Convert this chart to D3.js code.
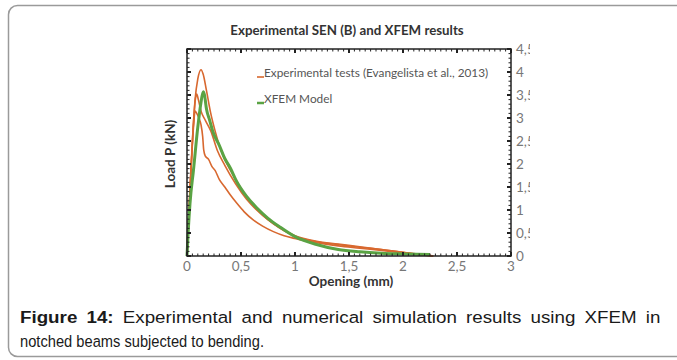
<!DOCTYPE html>
<html>
<head>
<meta charset="utf-8">
<script src="https://cdn.jsdelivr.net/npm/d3@7/dist/d3.min.js"></script>
<style>
  html, body { margin: 0; padding: 0; background: #fff; }
  svg { display: block; }
</style>
</head>
<body>
<svg id="fig" width="677" height="360"></svg>
<script>
// Load–opening curves, [opening (mm), load (kN)]
const testA = [[0,0],[0.01,0.5],[0.028,1.5],[0.05,2.5],[0.075,3.4],[0.1,3.85],[0.13,4.05],[0.15,3.95],[0.18,3.6],[0.22,3.1],[0.26,2.72],[0.33,2.2],[0.4,1.87],[0.5,1.47],[0.6,1.13],[0.7,0.89],[0.8,0.7],[0.9,0.55],[1.0,0.43],[1.2,0.31],[1.4,0.25],[1.6,0.19],[1.8,0.14],[2.0,0.08],[2.15,0.03],[2.28,0]];
const testB = [[0,0],[0.015,0.8],[0.04,2.0],[0.06,2.9],[0.08,3.45],[0.09,3.52],[0.105,3.4],[0.13,3.15],[0.17,2.95],[0.22,2.72],[0.28,2.3],[0.35,1.97],[0.45,1.57],[0.55,1.24],[0.65,0.99],[0.75,0.79],[0.85,0.63],[1.0,0.44],[1.2,0.32],[1.4,0.26],[1.6,0.2],[1.8,0.14],[2.0,0.08],[2.2,0.03],[2.28,0]];
const testC = [[0,0],[0.02,1.0],[0.04,2.0],[0.06,2.8],[0.075,3.15],[0.09,3.1],[0.11,3.0],[0.13,2.85],[0.145,2.6],[0.155,2.3],[0.17,2.17],[0.2,2.1],[0.23,1.95],[0.26,1.86],[0.3,1.66],[0.35,1.5],[0.4,1.33],[0.46,1.15],[0.53,0.96],[0.61,0.79],[0.7,0.65],[0.8,0.53],[0.9,0.44],[1.0,0.38],[1.2,0.29],[1.4,0.22],[1.6,0.17],[1.8,0.12],[2.0,0.07],[2.2,0.02],[2.28,0]];
const xfem = [[0,0],[0.012,0.57],[0.028,1.15],[0.06,1.87],[0.1,2.8],[0.127,3.3],[0.15,3.57],[0.162,3.5],[0.18,3.2],[0.21,2.95],[0.24,2.7],[0.3,2.4],[0.35,2.12],[0.4,1.92],[0.46,1.62],[0.55,1.3],[0.645,1.05],[0.75,0.82],[0.86,0.63],[1.0,0.42],[1.2,0.25],[1.4,0.14],[1.6,0.09],[1.8,0.06],[2.0,0.045],[2.25,0.03]];

const xTicks = [0, 0.5, 1, 1.5, 2, 2.5, 3];
const yTicks = [0, 0.5, 1, 1.5, 2, 2.5, 3, 3.5, 4, 4.5];
const fmt = v => String(v).replace(".", ",");

const titleText = "Experimental SEN (B) and XFEM results";
const xLabel = "Opening (mm)";
const yLabel = "Load P (kN)";
const legendItems = [
  { name: "Experimental tests (Evangelista et al., 2013)", color: "#d8682f", width: 1.6 },
  { name: "XFEM Model", color: "#5aa344", width: 3 }
];
const captionBold = "Figure 14:";
const captionLine1 = " Experimental and numerical simulation results using XFEM in";
const captionLine2 = "notched beams subjected to bending.";

const svg = d3.select("#fig");
const chartFont = "Lato, 'Open Sans', sans-serif";

// page panel with rounded corners
svg.append("rect")
  .attr("x", 8.5).attr("y", 5.5).attr("width", 760).attr("height", 351)
  .attr("rx", 9).attr("fill", "#fff").attr("stroke", "#9a9a9a").attr("stroke-width", 1.5);

const plot = { left: 187, right: 511, top: 49, bottom: 256 };
const x = d3.scaleLinear().domain([0, 3]).range([plot.left, plot.right]);
const y = d3.scaleLinear().domain([0, 4.5]).range([plot.bottom, plot.top]);

svg.append("defs").append("clipPath").attr("id", "figclip")
  .append("rect").attr("x", 0).attr("y", 0).attr("width", 530).attr("height", 300);

const chart = svg.append("g").attr("clip-path", "url(#figclip)");

// title
chart.append("text")
  .attr("x", 347).attr("y", 35).attr("text-anchor", "middle")
  .attr("font-family", chartFont).attr("font-weight", "bold").attr("font-size", 13.3)
  .attr("fill", "#333").text(titleText);

// series
const line = d3.line().x(d => x(d[0])).y(d => y(d[1])).curve(d3.curveMonotoneX);
const series = chart.append("g");
[testA, testB, testC].forEach(s => {
  series.append("path").attr("d", line(s)).attr("fill", "none")
    .attr("stroke", legendItems[0].color).attr("stroke-width", 1.6).attr("stroke-linejoin", "round");
});
series.append("path").attr("d", line(xfem)).attr("fill", "none")
  .attr("stroke", legendItems[1].color).attr("stroke-width", 3).attr("stroke-linejoin", "round");

// frame and inward ticks on all four sides
const frame = chart.append("g").attr("stroke", "#222");
frame.append("rect")
  .attr("x", plot.left).attr("y", plot.top)
  .attr("width", plot.right - plot.left).attr("height", plot.bottom - plot.top)
  .attr("fill", "none").attr("stroke-width", 1.5);

const xMinor = d3.range(0, 3.0001, 0.05);
const yMinor = d3.range(0, 4.5001, 0.1);
const isMajor = v => Math.abs(v * 2 - Math.round(v * 2)) < 1e-6;

xMinor.forEach(v => {
  const maj = isMajor(v), len = maj ? 4 : 2.5;
  [[plot.bottom, -1], [plot.top, 1]].forEach(([yy, dir]) => {
    frame.append("line").attr("x1", x(v)).attr("x2", x(v))
      .attr("y1", yy).attr("y2", yy + dir * len).attr("stroke-width", maj ? 2 : 1);
  });
});
yMinor.forEach(v => {
  const maj = isMajor(v), len = maj ? 4 : 2.5;
  [[plot.left, 1], [plot.right, -1]].forEach(([xx, dir]) => {
    frame.append("line").attr("y1", y(v)).attr("y2", y(v))
      .attr("x1", xx).attr("x2", xx + dir * len).attr("stroke-width", maj ? 2 : 1);
  });
});

// tick labels: opening at the bottom, load on the right
chart.append("g").selectAll("text").data(xTicks).join("text")
  .attr("x", d => x(d)).attr("y", 271).attr("text-anchor", "middle")
  .attr("font-family", chartFont).attr("font-size", 13.5).attr("fill", "#777")
  .text(fmt);
chart.append("g").selectAll("text").data(yTicks).join("text")
  .attr("x", plot.right + 5).attr("y", d => y(d) + 5)
  .attr("font-family", chartFont).attr("font-size", 13.5).attr("fill", "#777")
  .text(fmt);

// axis titles
chart.append("text")
  .attr("x", 351).attr("y", 286).attr("text-anchor", "middle")
  .attr("font-family", chartFont).attr("font-weight", "bold").attr("font-size", 13.5)
  .attr("fill", "#333").text(xLabel);
chart.append("text")
  .attr("transform", "translate(175,154) rotate(-90)").attr("text-anchor", "middle")
  .attr("font-family", chartFont).attr("font-weight", "bold").attr("font-size", 13.5)
  .attr("fill", "#333").text(yLabel);

// legend
const legend = chart.append("g");
legendItems.forEach((it, i) => {
  const ly = 77 + i * 26;
  legend.append("line").attr("x1", 257).attr("x2", 264).attr("y1", ly).attr("y2", ly)
    .attr("stroke", it.color).attr("stroke-width", i === 0 ? 1.6 : 2.5);
  legend.append("text").attr("x", 264).attr("y", ly)
    .attr("font-family", chartFont).attr("font-size", 11.8).attr("fill", "#555")
    .text(it.name);
});

// caption: first line stretched to the full measure, second line set narrow
const capL = 20, capR = 661;
const capStyle = sel => sel.attr("font-family", "Liberation Sans, Arial, sans-serif")
  .attr("font-size", 16.5).attr("fill", "#1a1a1a");
const l1 = svg.append("text").call(capStyle).attr("word-spacing", 3.5);
l1.append("tspan").attr("font-weight", "bold").text(captionBold);
l1.append("tspan").text(captionLine1);
const stretch = (capR - capL) / l1.node().getComputedTextLength();
l1.attr("transform", `translate(${capL},323) scale(${stretch},1)`);
svg.append("text").call(capStyle)
  .attr("transform", `translate(${capL},347) scale(0.89,1)`)
  .text(captionLine2);
</script>
</body>
</html>
